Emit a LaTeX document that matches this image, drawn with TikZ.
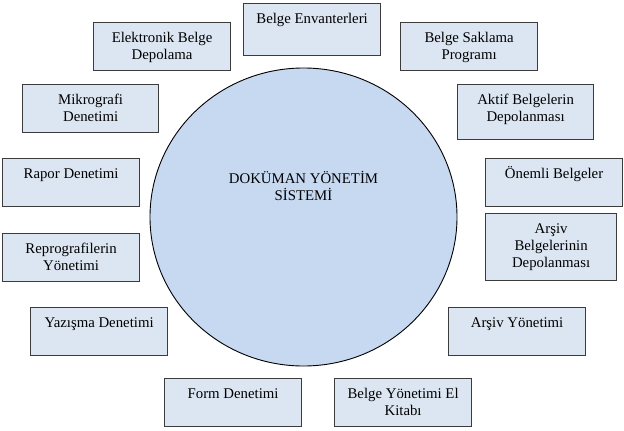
\documentclass[tikz,border=0pt]{standalone}
\usepackage{fontspec}
\setmainfont{Liberation Serif}
\usetikzlibrary{shapes.geometric}
\definecolor{boxfill}{RGB}{220,230,242}
\definecolor{circfill}{RGB}{198,217,241}
\definecolor{boxline}{RGB}{60,60,60}
\newcommand{\fls}{\rule{0pt}{13pt}}
\begin{document}
\begin{tikzpicture}[x=1pt,y=-1pt,
  docbox/.style={draw=boxline, line width=1.2pt, fill=boxfill, anchor=north west, inner sep=0pt},
  lbl/.style={anchor=north, inner sep=0pt, align=center, font=\fontsize{14.8}{17.3}\selectfont},
  sysnode/.style={draw=black, line width=0.9pt, fill=circfill, ellipse, inner sep=0pt}]
\useasboundingbox (0,0) rectangle (624,431);
\node[sysnode, minimum width=307pt, minimum height=298pt] (sys) at (303.5,217) {};
\node[lbl] (systxt) at (303.5,170) {\fls DOKÜMAN YÖNETİM\\SİSTEMİ};

\node[docbox, minimum width=137pt, minimum height=48pt] (eb) at (93,22) {};
\node[lbl] (ebt) at ([yshift=-7pt]eb.north) {\fls Elektronik Belge\\Depolama};

\node[docbox, minimum width=137pt, minimum height=52pt] (be) at (243,3) {};
\node[lbl] (bet) at ([yshift=-7pt]be.north) {\fls Belge Envanterleri};

\node[docbox, minimum width=137pt, minimum height=48pt] (bs) at (400,22) {};
\node[lbl] (bst) at ([yshift=-7pt]bs.north) {\fls Belge Saklama\\Programı};

\node[docbox, minimum width=136pt, minimum height=48pt] (mk) at (22,84) {};
\node[lbl] (mkt) at ([yshift=-7pt]mk.north) {\fls Mikrografi\\Denetimi};

\node[docbox, minimum width=136pt, minimum height=55pt] (ak) at (457,84) {};
\node[lbl] (akt) at ([yshift=-7pt]ak.north) {\fls Aktif Belgelerin\\Depolanması};

\node[docbox, minimum width=137pt, minimum height=48pt] (rp) at (2,158) {};
\node[lbl] (rpt) at ([yshift=-7pt]rp.north) {\fls Rapor Denetimi};

\node[docbox, minimum width=137pt, minimum height=48pt] (ob) at (485,158) {};
\node[lbl] (obt) at ([yshift=-7pt]ob.north) {\fls Önemli Belgeler};

\node[docbox, minimum width=137pt, minimum height=48pt] (rg) at (2,233) {};
\node[lbl] (rgt) at ([yshift=-7pt]rg.north) {\fls Reprografilerin\\Yönetimi};

\node[docbox, minimum width=131pt, minimum height=67pt] (ab) at (485,213) {};
\node[lbl] (abt) at ([yshift=-7pt]ab.north) {\fls Arşiv\\Belgelerinin\\Depolanması};

\node[docbox, minimum width=137pt, minimum height=48pt] (yz) at (30,307) {};
\node[lbl] (yzt) at ([yshift=-7pt]yz.north) {\fls Yazışma Denetimi};

\node[docbox, minimum width=137pt, minimum height=48pt] (ay) at (448,307) {};
\node[lbl] (ayt) at ([yshift=-7pt]ay.north) {\fls Arşiv Yönetimi};

\node[docbox, minimum width=137pt, minimum height=48pt] (fd) at (164,378) {};
\node[lbl] (fdt) at ([yshift=-7pt]fd.north) {\fls Form Denetimi};

\node[docbox, minimum width=137pt, minimum height=48pt] (by) at (334,378) {};
\node[lbl] (byt) at ([yshift=-7pt]by.north) {\fls Belge Yönetimi El\\Kitabı};
\end{tikzpicture}
\end{document}
